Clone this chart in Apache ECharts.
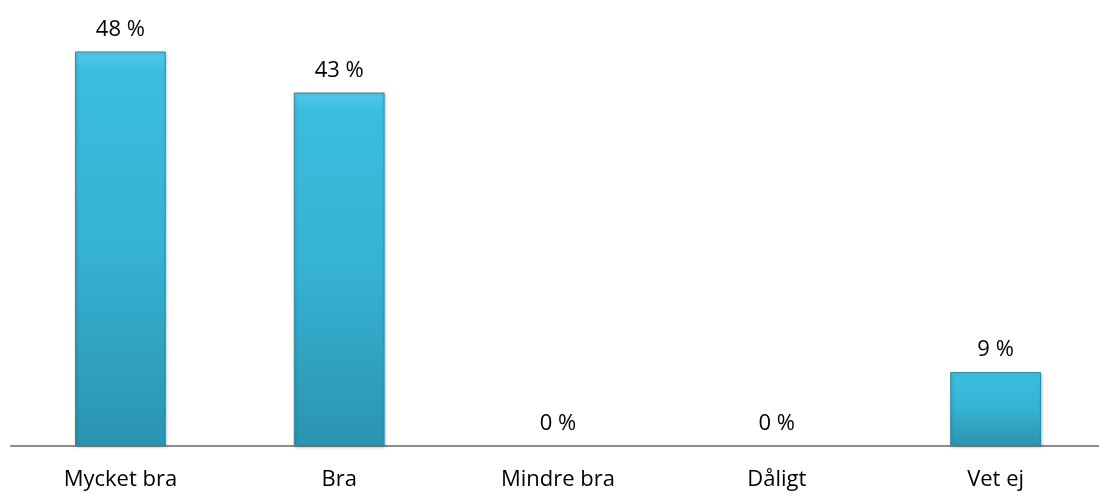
<!DOCTYPE html>
<html>
<head>
<meta charset="utf-8">
<script src="https://cdn.jsdelivr.net/npm/echarts@6/dist/echarts.min.js"></script>
<style>
html, body { margin: 0; padding: 0; background: #fff; overflow: hidden; }
#main { width: 1105px; height: 495px; }
</style>
</head>
<body>
<div id="main"></div>
<script>
var categories = ['Mycket bra', 'Bra', 'Mindre bra', 'Dåligt', 'Vet ej'];
var values = [48, 43, 0, 0, 9];

var chart = echarts.init(document.getElementById('main'));

// nollstaplar ska inte synas, bara etiketten
var barData = values.map(function (v) {
    return v === 0 ? { value: v, itemStyle: { opacity: 0 }, label: { opacity: 1 } } : v;
});

var option = {
    animation: false,
    grid: { left: 11, right: 0, top: 35, bottom: 49 },
    xAxis: {
        type: 'category',
        data: categories,
        axisTick: { show: false },
        axisLine: { lineStyle: { color: '#8c8c8c', width: 2 } },
        axisLabel: {
            color: '#000',
            fontFamily: 'Open Sans',
            fontSize: 22,
            margin: 23
        }
    },
    yAxis: {
        type: 'value',
        min: 0,
        max: 50,
        show: false,
        splitLine: { show: false }
    },
    series: [{
        type: 'bar',
        data: barData,
        barWidth: '41.5%',
        itemStyle: {
            color: new echarts.graphic.LinearGradient(0, 0, 0, 1, [
                { offset: 0, color: '#52cbea' },
                { offset: 0.05, color: '#3bbde0' },
                { offset: 0.5, color: '#36b2d3' },
                { offset: 1, color: '#2b94b0' }
            ]),
            borderColor: '#2a8ea8',
            borderWidth: 1,
            shadowColor: 'rgba(0,0,0,0.25)',
            shadowBlur: 3,
            shadowOffsetX: 1,
            shadowOffsetY: 1
        },
        label: {
            show: true,
            position: 'top',
            distance: 11,
            formatter: '{c} %',
            color: '#000',
            fontFamily: 'Open Sans',
            fontSize: 22,
            opacity: 1
        }
    }]
};
chart.setOption(option);
</script>
</body>
</html>
